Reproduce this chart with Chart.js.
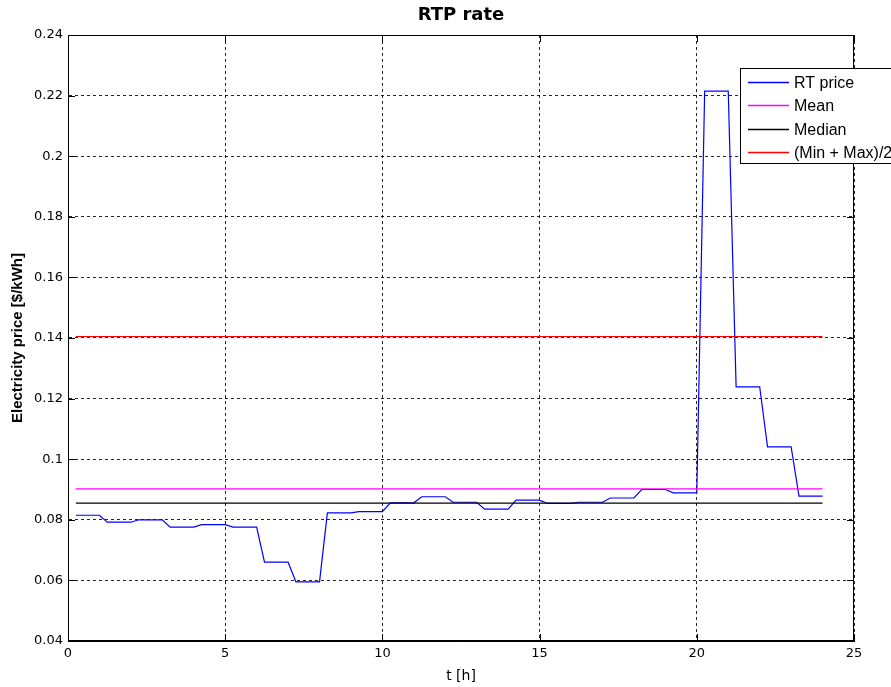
<!DOCTYPE html>
<html>
<head>
<meta charset="utf-8">
<script src="https://cdn.jsdelivr.net/npm/chart.js@4"></script>
<style>
  html, body { margin: 0; padding: 0; background: #fff; }
  #wrap { width: 891px; height: 687px; }
</style>
</head>
<body>
<div id="wrap"><canvas id="chart" width="891" height="687"></canvas></div>
<script>
const hourIndex = [0, 1, 2, 3, 4, 5, 6, 7, 8, 9, 10, 11, 12, 13, 14, 15, 16, 17, 18, 19, 20, 21, 22, 23]
const hourlyPrice = [
  0.0815, 0.0792, 0.0800, 0.0776, 0.0784, 0.0776, 0.0660, 0.0595,
  0.0823, 0.0827, 0.0856, 0.0876, 0.0858, 0.0835, 0.0865, 0.0854,
  0.0858, 0.0872, 0.0900, 0.0889, 0.2215, 0.1239, 0.1041, 0.0878
]

// Reference levels
const meanPrice = 0.0902
const medianPrice = 0.0855
const midRangePrice = 0.1405
const levelSpan = [0.25, 24]

// Axis ticks
const xTicks = [0, 5, 10, 15, 20, 25]
const yTicks = [0.04, 0.06, 0.08, 0.1, 0.12, 0.14, 0.16, 0.18, 0.2, 0.22, 0.24]

const FONT = "'DejaVu Sans', sans-serif"
const SANS = "'Liberation Sans', Arial, sans-serif"

// each hourly price is held from quarter past the hour to the end of the hour
const rtPoints = []
hourIndex.forEach((h, i) => {
  rtPoints.push({ x: h + 0.25, y: hourlyPrice[i] })
  rtPoints.push({ x: h + 1, y: hourlyPrice[i] })
})

const flat = v => levelSpan.map(x => ({ x: x, y: v }))

// Title, axis labels, frame, inward ticks and legend box
const decorations = {
  id: 'decorations',
  afterDraw(chart) {
    const ctx = chart.ctx
    const area = chart.chartArea
    const xs = chart.scales.x
    const ys = chart.scales.y

    ctx.save()
    ctx.strokeStyle = '#000'
    ctx.lineWidth = 1
    ctx.strokeRect(area.left + 0.5, area.top + 0.5, area.right - area.left - 1, area.bottom - area.top - 1)

    // inward tick marks on all four sides
    ctx.beginPath()
    xTicks.forEach(t => {
      const px = Math.round(xs.getPixelForValue(t)) + 0.5
      ctx.moveTo(px, area.bottom); ctx.lineTo(px, area.bottom - 7)
      ctx.moveTo(px, area.top); ctx.lineTo(px, area.top + 7)
    })
    yTicks.forEach(t => {
      const py = Math.round(ys.getPixelForValue(t)) + 0.5
      ctx.moveTo(area.left, py); ctx.lineTo(area.left + 7, py)
      ctx.moveTo(area.right, py); ctx.lineTo(area.right - 7, py)
    })
    ctx.stroke()

    // title
    ctx.fillStyle = '#000'
    ctx.textAlign = 'center'
    ctx.textBaseline = 'middle'
    ctx.font = 'bold 18px ' + FONT
    ctx.fillText('RTP rate', (area.left + area.right) / 2, 15)

    // axis titles
    ctx.font = '14px ' + FONT
    ctx.fillText('t [h]', (area.left + area.right) / 2, 676)
    ctx.save()
    ctx.translate(18, (area.top + area.bottom) / 2)
    ctx.rotate(-Math.PI / 2)
    ctx.font = 'bold 15px ' + SANS
    ctx.fillText('Electricity price [$/kWh]', 0, 0)
    ctx.restore()

    // legend
    const box = { x: 740, y: 68, w: 170, h: 95 }
    ctx.fillStyle = '#fff'
    ctx.fillRect(box.x, box.y, box.w, box.h)
    ctx.strokeStyle = '#000'
    ctx.lineWidth = 1
    ctx.strokeRect(box.x + 0.5, box.y + 0.5, box.w, box.h)
    ctx.textAlign = 'left'
    ctx.font = '16px ' + SANS
    chart.data.datasets.forEach((ds, i) => {
      const y = Math.round(82 + i * 23.3) + 0.5
      ctx.strokeStyle = ds.borderColor
      ctx.lineWidth = 1.3
      ctx.beginPath()
      ctx.moveTo(748, y)
      ctx.lineTo(789, y)
      ctx.stroke()
      ctx.fillStyle = '#000'
      ctx.fillText(ds.label, 794, y + 1)
    })
    ctx.restore()
  }
}

const gridStyle = {
  color: 'rgba(0, 0, 0, 0.85)',
  lineWidth: 1,
  drawTicks: false,
  tickLength: 0
}

new Chart(document.getElementById('chart'), {
  type: 'line',
  data: {
    datasets: [
      { label: 'RT price', data: rtPoints, borderColor: '#0000ff', borderWidth: 1.2, order: 4 },
      { label: 'Mean', data: flat(meanPrice), borderColor: '#ff00ff', borderWidth: 1.2, order: 3 },
      { label: 'Median', data: flat(medianPrice), borderColor: '#000000', borderWidth: 1.2, order: 2 },
      { label: '(Min + Max)/2', data: flat(midRangePrice), borderColor: '#ff0000', borderWidth: 1.2, order: 1 }
    ]
  },
  options: {
    responsive: false,
    animation: false,
    events: [],
    elements: {
      point: { radius: 0 },
      line: { tension: 0, fill: false }
    },
    layout: { padding: { top: 35, right: 37, left: 0, bottom: 0 } },
    plugins: {
      legend: { display: false },
      title: { display: false },
      tooltip: { enabled: false }
    },
    scales: {
      x: {
        type: 'linear',
        min: 0,
        max: 25,
        afterFit: scale => { scale.height = 46 },
        afterBuildTicks: scale => { scale.ticks = xTicks.map(v => ({ value: v })) },
        grid: { ...gridStyle, borderDash: [3, 3] },
        border: { display: true, color: '#000', dash: [3, 3] },
        ticks: {
          padding: 5,
          color: '#000',
          font: { family: FONT, size: 13 },
          maxRotation: 0
        }
      },
      y: {
        type: 'linear',
        min: 0.04,
        max: 0.24,
        afterFit: scale => { scale.width = 68 },
        afterBuildTicks: scale => { scale.ticks = yTicks.map(v => ({ value: v })) },
        grid: gridStyle,
        border: { display: true, color: '#000', dash: [3, 3] },
        ticks: {
          padding: 5,
          color: '#000',
          font: { family: FONT, size: 13 },
          callback: v => String(+v.toFixed(2))
        }
      }
    }
  },
  plugins: [decorations]
})
</script>
</body>
</html>
